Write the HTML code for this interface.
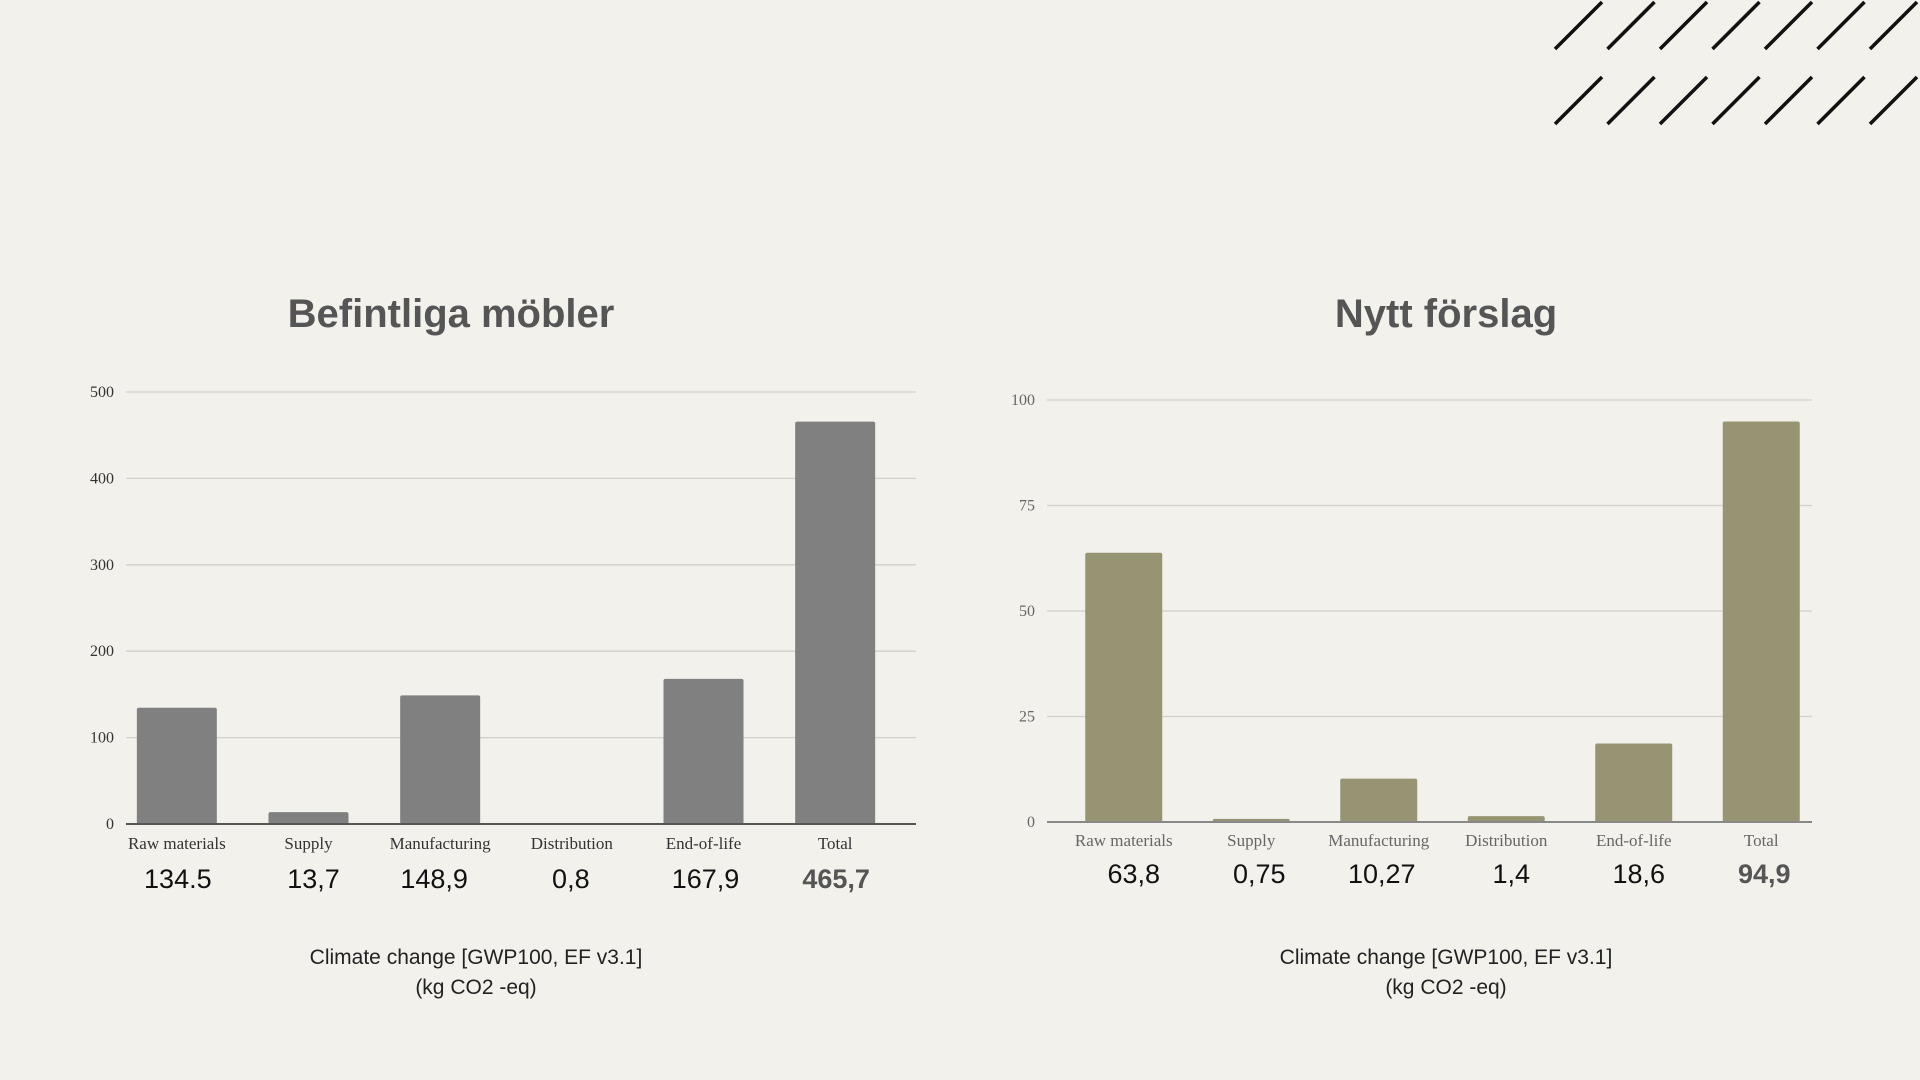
<!DOCTYPE html>
<html><head><meta charset="utf-8"><style>
html,body{margin:0;padding:0;width:1920px;height:1080px;background:#f3f1ec;overflow:hidden}
svg{display:block}
</style></head><body>
<svg id="root" width="1920" height="1080" xmlns="http://www.w3.org/2000/svg">
<g id="stripes"></g>
<text x="451" y="327" text-anchor="middle" font-family="Liberation Sans, sans-serif" font-weight="bold" font-size="40" fill="#555">Befintliga möbler</text>
<text x="1446" y="327" text-anchor="middle" font-family="Liberation Sans, sans-serif" font-weight="bold" font-size="40" fill="#555">Nytt förslag</text>
<g id="left"></g>
<g id="right"></g>
<text x="476" y="964" text-anchor="middle" font-family="Liberation Sans, sans-serif" font-size="21" fill="#222">Climate change [GWP100, EF v3.1]</text>
<text x="476" y="994" text-anchor="middle" font-family="Liberation Sans, sans-serif" font-size="21" fill="#222">(kg CO2 -eq)</text>
<text x="1446" y="964" text-anchor="middle" font-family="Liberation Sans, sans-serif" font-size="21" fill="#222">Climate change [GWP100, EF v3.1]</text>
<text x="1446" y="994" text-anchor="middle" font-family="Liberation Sans, sans-serif" font-size="21" fill="#222">(kg CO2 -eq)</text>
</svg>
<script>
const categories = ["Raw materials","Supply","Manufacturing","Distribution","End-of-life","Total"];
const leftValues = [134.5, 13.7, 148.9, 0.8, 167.9, 465.7];
const leftLabels = ["134.5","13,7","148,9","0,8","167,9","465,7"];
const leftTicks = [0,100,200,300,400,500];
const rightValues = [63.8, 0.75, 10.27, 1.4, 18.6, 94.9];
const rightLabels = ["63,8","0,75","10,27","1,4","18,6","94,9"];
const rightTicks = [0,25,50,75,100];

const NS = "http://www.w3.org/2000/svg";
function mk(tag, attrs, parent){const e=document.createElementNS(NS,tag);for(const k in attrs)e.setAttribute(k,attrs[k]);parent.appendChild(e);return e;}

// stripes
const st=document.getElementById('stripes');
for(let r=0;r<2;r++)for(let i=0;i<7;i++){
  const x0=1555+i*52.5, y0=49+r*75;
  const l=mk('line',{x1:x0,y1:y0,x2:x0+47,y2:y0-47,stroke:'#111','stroke-width':3.5},st);
  
  
}

function chart(g, cfg){
  const {x0,x1,yTop,yBot,max,ticks,values,labels,color,barW,catY,valY,valOff,axisColor,catColor} = cfg;
  const y = v => yBot - (v/max)*(yBot-yTop);
  const step=(x1-x0)/categories.length;
  const xc = i => x0 + step*(i+0.5) + cfg.shift;
  ticks.forEach(t=>{
    if(t>0){const gl=mk('line',{x1:x0,x2:x1,y1:y(t),y2:y(t),stroke:'#d2d0cb','stroke-width':1.3},g);
    
    }
    const tx=mk('text',{x:x0-12,y:y(t)+5,'text-anchor':'end','font-family':'Liberation Serif, serif','font-size':16,fill:catColor},g);
    tx.textContent=t;
    
    
  });
  values.forEach((v,i)=>{
    const b=mk('rect',{x:xc(i)-barW/2,y:y(v),width:barW,height:yBot-y(v),fill:color,rx:2},g);
    
    
    const c=mk('text',{x:xc(i),y:catY,'text-anchor':'middle','font-family':'Liberation Serif, serif','font-size':17,fill:catColor},g);
    c.textContent=categories[i];
    
    
    const vl=mk('text',{x:xc(i)+valOff[i],y:valY,'text-anchor':'middle','font-family':'Liberation Sans, sans-serif','font-size':27,fill:i===5?'#555':'#111','font-weight':i===5?'bold':'normal'},g);
    vl.textContent=labels[i];
    
    
  });
  const ax=mk('line',{x1:x0,x2:x1,y1:yBot,y2:yBot,stroke:axisColor,'stroke-width':2},g);
  
  
}
chart(document.getElementById('left'),{x0:126,x1:916,yTop:392,yBot:824,max:500,ticks:leftTicks,values:leftValues,labels:leftLabels,color:'#808080',barW:80,catY:849,valY:888,valOff:[1,5,-6,-1,2,1],axisColor:'#555',catColor:'#333',shift:-15});
chart(document.getElementById('right'),{x0:1047,x1:1812,yTop:400,yBot:822,max:100,ticks:rightTicks,values:rightValues,labels:rightLabels,color:'#979474',barW:77,catY:846,valY:883,valOff:[10,8,3,5,5,3],axisColor:'#888',catColor:'#666',shift:13});
</script>
</body></html>
